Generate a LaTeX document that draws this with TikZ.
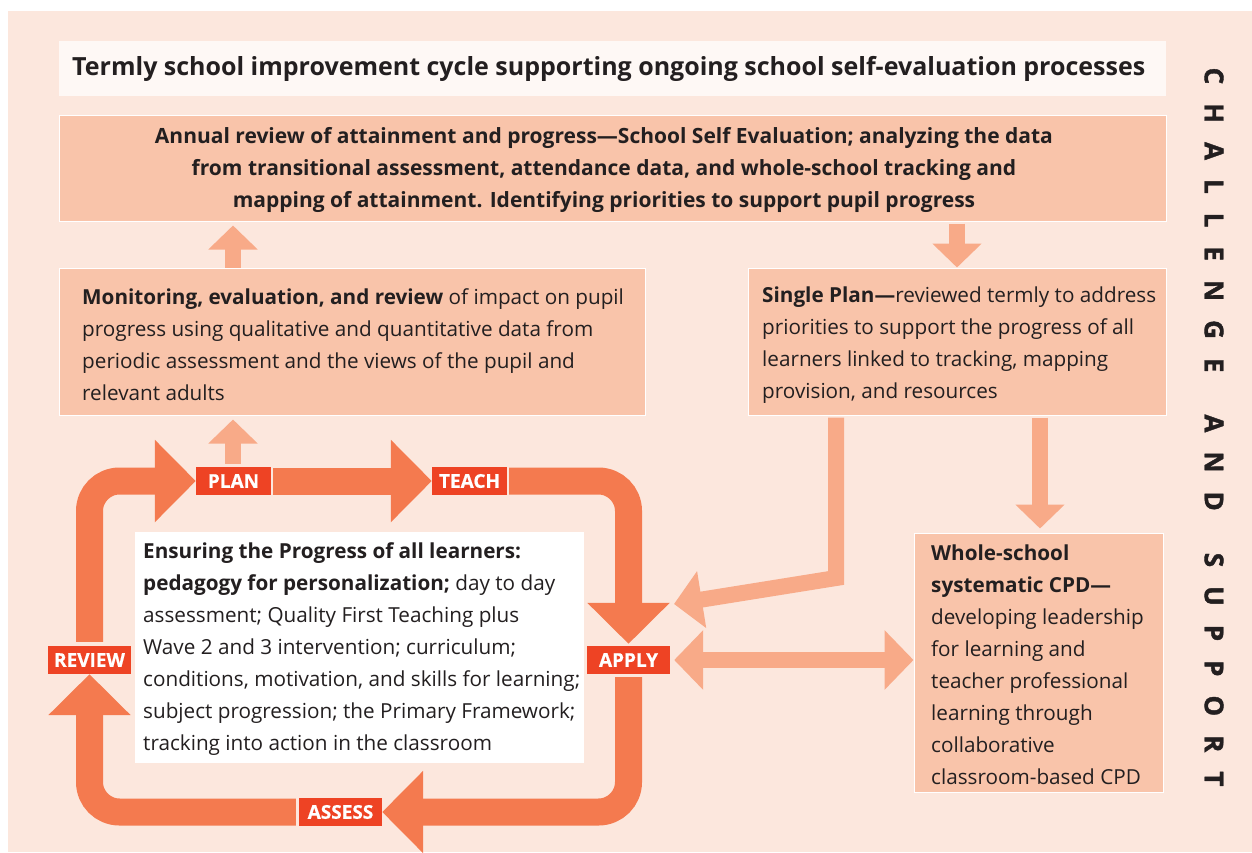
\documentclass[tikz,border=0pt]{standalone}
\usepackage{fontspec}
\setmainfont{Open Sans}
\usetikzlibrary{arrows.meta}
\definecolor{bgpeach}{HTML}{FCE7DD}
\definecolor{titlebg}{HTML}{FEF8F5}
\definecolor{boxfill}{HTML}{F9C4AA}
\definecolor{lightarr}{HTML}{F8AA88}
\definecolor{band}{HTML}{F47A4F}
\definecolor{labred}{HTML}{EE4324}
\definecolor{txt}{HTML}{231F20}
\newdimen\chlsp \chlsp=19pt
\newdimen\chwsp \chwsp=42pt
\tikzset{
  pbox/.style={fill=boxfill, draw=white, line width=1pt, inner sep=0pt},
  body/.style={text=txt, align=left, inner sep=0pt, font=\fontsize{20.7}{32}\selectfont},
  lab/.style={fill=labred, text=white, inner sep=0pt, minimum height=28pt, font=\bfseries\fontsize{19}{19}\selectfont\addfontfeature{FakeBold=0.6}},
  cyc/.style={draw=band, line width=27pt, rounded corners=30pt, -{Triangle[width=80pt,length=41pt]}},
  lup/.style={draw=lightarr, line width=16pt, -{Triangle[width=48pt,length=24pt]}},
}
\begin{document}
\begin{tikzpicture}[x=1pt,y=-1pt]
\useasboundingbox (0,0) rectangle (1252,852);
\fill[white] (0,0) rectangle (1252,852);
\fill[bgpeach] (8,11) rectangle (1252,852);

% boxes
\node[fill=titlebg, inner sep=0pt, minimum width=1107pt, minimum height=55pt] (title) at (612.5,68.5) {};
\node[text=txt, inner sep=0pt, anchor=west, font=\bfseries\fontsize{25}{28}\selectfont] (titletxt) at (72,68.5)
  {Termly school improvement cycle supporting ongoing school self-evaluation processes};

\node[pbox, minimum width=1107pt, minimum height=106pt] (annual) at (612.5,168) {};
\node[body, align=center, font=\bfseries\fontsize{21}{32}\selectfont] (annualtxt) at (604,170)
  {Annual review of attainment and progress---School Self Evaluation; analyzing the data\\
   from transitional assessment, attendance data, and whole-school tracking and\\
   mapping of attainment. Identifying priorities to support pupil progress};

\node[pbox, minimum width=586pt, minimum height=147pt] (mon) at (352,341.5) {};
\node[body, anchor=west] (montxt) at (82,345)
  {\textbf{Monitoring, evaluation, and review} of impact on pupil\\
   progress using qualitative and quantitative data from\\
   periodic assessment and the views of the pupil and\\
   relevant adults};

\node[pbox, minimum width=418pt, minimum height=147pt] (single) at (957,341.5) {};
\node[body, anchor=west] (singletxt) at (762,345)
  {\textbf{Single Plan---}reviewed termly to address\\
   priorities to support the progress of all\\
   learners linked to tracking, mapping\\
   provision, and resources};

\node[fill=white, inner sep=0pt, minimum width=449pt, minimum height=231pt] (ens) at (359.5,647.5) {};
\node[body, anchor=west] (enstxt) at (143,649)
  {\textbf{Ensuring the Progress of all learners:}\\
   \textbf{pedagogy for personalization;} day to day\\
   assessment; Quality First Teaching plus\\
   Wave 2 and 3 intervention; curriculum;\\
   conditions, motivation, and skills for learning;\\
   subject progression; the Primary Framework;\\
   tracking into action in the classroom};

\node[pbox, minimum width=249pt, minimum height=259pt] (whole) at (1038.5,662.5) {};
\node[body, anchor=west] (wholetxt) at (931,665)
  {\textbf{Whole-school}\\
   \textbf{systematic CPD---}\\
   developing leadership\\
   for learning and\\
   teacher professional\\
   learning through\\
   collaborative\\
   classroom-based CPD};

% cycle labels
\node[lab, minimum width=75pt] (plan) at (233.5,481) {PLAN};
\node[lab, minimum width=75pt] (teach) at (469.5,481) {TEACH};
\node[lab, minimum width=83pt] (apply) at (628.5,660) {APPLY};
\node[lab, minimum width=83pt] (assess) at (340.5,812) {ASSESS};
\node[lab, minimum width=83pt] (review) at (89.5,660) {REVIEW};

% cycle band
\draw[cyc, shorten <=4pt] (review.north) |- (plan.west);
\draw[cyc, shorten <=2pt] (plan.east) -- (teach.west);
\draw[cyc, shorten <=2pt, shorten >=2pt] (teach.east) -| (apply.north);
\draw[cyc, shorten <=3pt] (apply.south) |- (assess.east);
\draw[cyc, shorten <=3pt] (assess.west) -| (review.south);

% light arrows
\coordinate (ax) at (233,0);
\coordinate (dx) at (957,0);
\coordinate (sx) at (1040,0);
\coordinate (bx) at (836,578);
\coordinate (applyin) at (674,604);
\draw[lup, shorten >=4pt] (ax |- mon.north) -- (ax |- annual.south);
\draw[lup, shorten <=3pt, shorten >=4pt] (ax |- plan.north) -- (ax |- mon.south);
\draw[lup, shorten <=2pt] (dx |- annual.south) -- (dx |- single.north);
\draw[lup, shorten <=2pt, shorten >=4pt] (sx |- single.south) -- (sx |- whole.north);
\draw[draw=lightarr, line width=16pt, line join=miter, -{Triangle[width=56pt,length=28pt]}, shorten <=2pt]
  (bx |- single.south) -- (bx) -- (applyin);
\draw[draw=lightarr, line width=16pt, {Triangle[width=58pt,length=29pt]}-{Triangle[width=58pt,length=29pt]}, shorten <=4pt]
  (apply.east) -- (apply.east -| whole.west);

% side text
\node[rotate=-90, text=txt, inner sep=0pt, font=\bfseries\fontsize{26}{26}\selectfont\addfontfeature{FakeBold=1.5}] (side) at (1214,427)
  {C\kern\chlsp H\kern\chlsp A\kern\chlsp L\kern\chlsp L\kern\chlsp E\kern\chlsp N\kern\chlsp G\kern\chlsp E\kern\chwsp A\kern\chlsp N\kern\chlsp D\kern\chwsp S\kern\chlsp U\kern\chlsp P\kern\chlsp P\kern\chlsp O\kern\chlsp R\kern\chlsp T};
\end{tikzpicture}
\end{document}
